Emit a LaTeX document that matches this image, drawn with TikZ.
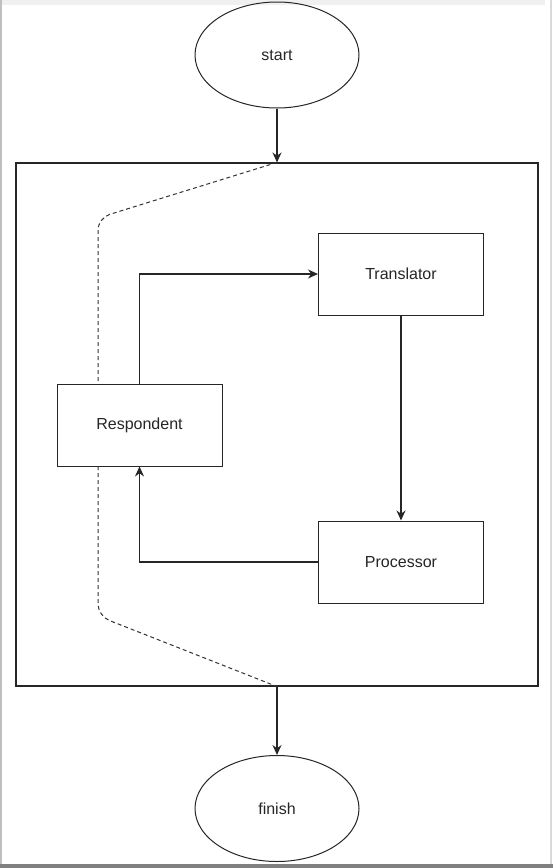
\documentclass[tikz,border=0pt]{standalone}
\usepackage{fontspec}
\setmainfont{Liberation Sans}
\usetikzlibrary{shapes.geometric,arrows.meta}

\tikzset{
  box/.style={draw=black!85, line width=1pt, minimum width=165pt, minimum height=82pt,
    text=black!85, font=\fontsize{16}{19}\selectfont},
  term/.style={box, ellipse, minimum width=164pt, minimum height=106pt},
  flow/.style={draw=black!85, line width=1.1pt, -{Stealth[length=10pt,width=9pt]}},
  trace/.style={draw=black!80, line width=1pt, dash pattern=on 4pt off 3pt, rounded corners=12pt}
}

\begin{document}
\begin{tikzpicture}[x=1pt,y=-1pt]

\useasboundingbox (0,0) rectangle (553,868);
\fill[white] (0,0) rectangle (553,868);

% window edges
\fill[black!6] (2,0) rectangle (545,5);
\fill[black!25] (0,0) rectangle (2,868);
\fill[black!15] (550,0) rectangle (552,864);
\fill[black!50] (0,864) rectangle (553,868);

% outer frame
\node[draw=black!85, line width=1.1pt, minimum width=522pt, minimum height=523pt] (frame) at (277,424.5) {};

% start and finish
\node[term] (start) at (277,55) {start};
\node[term] (finish) at (277,808.5) {finish};

% inner boxes
\node[box] (trans) at (401,274) {Translator};
\node[box] (resp) at (139.5,425) {Respondent};
\node[box] (proc) at (401,562) {Processor};

% dashed path around the respondent
\coordinate (tbend) at (98,218);
\coordinate (rtop) at (98,384);
\coordinate (rbot) at (98,466);
\coordinate (bbend) at (98,616);

\draw[trace] (frame.north) -- (tbend) -- (rtop);
\draw[trace] (rbot) -- (bbend) -- (frame.south);

% arrows
\draw[flow] (start) -- (frame.north);
\draw[flow] (resp.north) |- (trans.west);
\draw[flow] (trans) -- (proc);
\draw[flow] (proc.west) -| (resp.south);
\draw[flow] (frame.south) -- (finish);

\end{tikzpicture}
\end{document}
